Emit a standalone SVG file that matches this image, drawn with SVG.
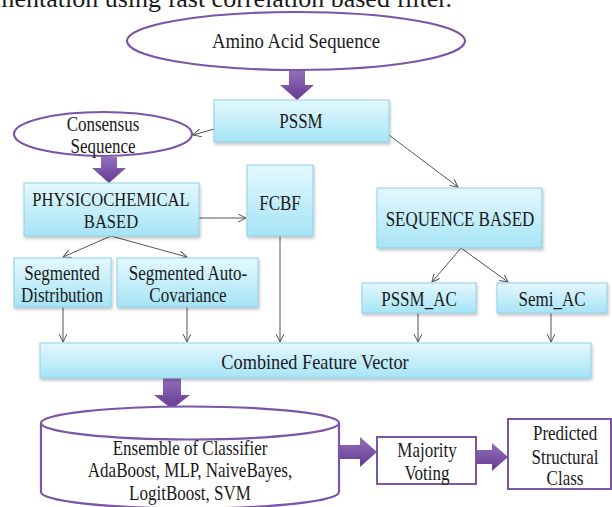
<svg xmlns="http://www.w3.org/2000/svg" width="612" height="507" viewBox="0 0 612 507">
<style>
text{font-family:"Liberation Serif","Times New Roman",serif;fill:#1a1a1a;text-anchor:middle;font-size:20px;transform-box:fill-box;transform-origin:center;transform:scaleX(0.85)}
text.top{transform:none;font-size:26px;text-anchor:end}
.box{fill:url(#cyan);stroke:#8fd0e6;stroke-width:1;filter:url(#sh)}
.ell{fill:#fff;stroke:#7a55a8;stroke-width:2.2}
.pbox{fill:#fff;stroke:#7a55a8;stroke-width:2}
.big{fill:url(#purp)}
.con line{stroke:#555;stroke-width:1;marker-end:url(#ah)}
</style>
<defs>
<linearGradient id="cyan" x1="0" y1="0" x2="0" y2="1">
<stop offset="0" stop-color="#e4f8fe"/>
<stop offset="1" stop-color="#a6e4f6"/>
</linearGradient>
<linearGradient id="purp" x1="0" y1="0" x2="0" y2="1">
<stop offset="0" stop-color="#9270bd"/>
<stop offset="1" stop-color="#653a91"/>
</linearGradient>
<filter id="sh" x="-10%" y="-10%" width="130%" height="140%">
<feDropShadow dx="1" dy="2" stdDeviation="1.5" flood-color="#000" flood-opacity="0.25"/>
</filter>
<marker id="ah" markerWidth="10" markerHeight="10" refX="8" refY="4" orient="auto" markerUnits="userSpaceOnUse">
<path d="M0,0 L8,4 L0,8" fill="none" stroke="#555" stroke-width="1"/>
</marker>
</defs>

<text class="top" x="452" y="7">implementation using fast correlation based filter.</text>

<g id="connectors" class="con">
<line x1="214" y1="129" x2="193" y2="135"/>
<line x1="389" y1="135" x2="458" y2="187"/>
<line x1="199" y1="218" x2="246" y2="218"/>
<line x1="111" y1="236" x2="63" y2="257"/>
<line x1="111" y1="236" x2="187" y2="257"/>
<line x1="461" y1="248" x2="432" y2="282"/>
<line x1="461" y1="248" x2="508" y2="282"/>
<line x1="63" y1="307" x2="63" y2="342"/>
<line x1="187" y1="307" x2="187" y2="342"/>
<line x1="280" y1="236" x2="280" y2="342"/>
<line x1="418" y1="313" x2="418" y2="342"/>
<line x1="551" y1="313" x2="551" y2="342"/>
</g>

<g id="bigarrows">
<polygon class="big" points="289,70 305,70 305,85 314,85 297,100 280,85 289,85"/>
<polygon class="big" points="101,157 117,157 117,168 126,168 109,183 92,168 101,168"/>
<polygon class="big" points="163,378 181,378 181,395 190,395 172,409 154,395 163,395"/>
<polygon class="big" points="339,445 360,445 360,437 377,452 360,467 360,459 339,459"/>
<polygon class="big" points="476,450 492,450 492,443 508,457 492,471 492,464 476,464"/>
</g>

<g id="amino">
<ellipse class="ell" cx="296" cy="41" rx="169" ry="29"/>
<text x="296" y="48" style="font-size:22px">Amino Acid Sequence</text>
</g>

<g id="pssm">
<rect class="box" x="214" y="100" width="175" height="42"/>
<text x="301" y="128">PSSM</text>
</g>

<g id="consensus">
<ellipse class="ell" cx="103" cy="134" rx="89" ry="22"/>
<text x="103" y="131">Consensus</text>
<text x="103" y="153">Sequence</text>
</g>

<g id="physico">
<rect class="box" x="24" y="183" width="175" height="53"/>
<text x="111" y="206" style="font-size:19.5px">PHYSICOCHEMICAL</text>
<text x="111" y="228" style="font-size:19.5px">BASED</text>
</g>

<g id="fcbf">
<rect class="box" x="247" y="165" width="66" height="71"/>
<text x="280" y="210">FCBF</text>
</g>

<g id="seqbased">
<rect class="box" x="377" y="188" width="165" height="60"/>
<text x="460" y="226">SEQUENCE BASED</text>
</g>

<g id="segdist">
<rect class="box" x="14" y="258" width="97" height="49"/>
<text x="62" y="280">Segmented</text>
<text x="62" y="302">Distribution</text>
</g>

<g id="segauto">
<rect class="box" x="117" y="258" width="141" height="49"/>
<text x="188" y="280">Segmented Auto-</text>
<text x="188" y="302">Covariance</text>
</g>

<g id="pssmac">
<rect class="box" x="362" y="283" width="114" height="30"/>
<text x="419" y="306">PSSM_AC</text>
</g>

<g id="semiac">
<rect class="box" x="497" y="283" width="110" height="30"/>
<text x="552" y="306">Semi_AC</text>
</g>

<g id="combined">
<rect class="box" x="40" y="343" width="551" height="35"/>
<text x="315" y="369" style="font-size:21.5px">Combined Feature Vector</text>
</g>

<g id="ensemble">
<path class="ell" d="M41,423 L41,492 A149,16.5 0 0 0 339,492 L339,423"/>
<ellipse class="ell" cx="190" cy="423" rx="149" ry="16.5"/>
<text x="190" y="455">Ensemble of Classifier</text>
<text x="190" y="477">AdaBoost, MLP, NaiveBayes,</text>
<text x="190" y="500">LogitBoost, SVM</text>
</g>

<g id="majority">
<rect class="pbox" x="377" y="437" width="99" height="47"/>
<text x="427" y="457">Majority</text>
<text x="427" y="480">Voting</text>
</g>

<g id="predicted">
<rect class="pbox" x="508" y="419" width="103" height="70"/>
<text x="565" y="440">Predicted</text>
<text x="565" y="464">Structural</text>
<text x="565" y="485">Class</text>
</g>
</svg>
